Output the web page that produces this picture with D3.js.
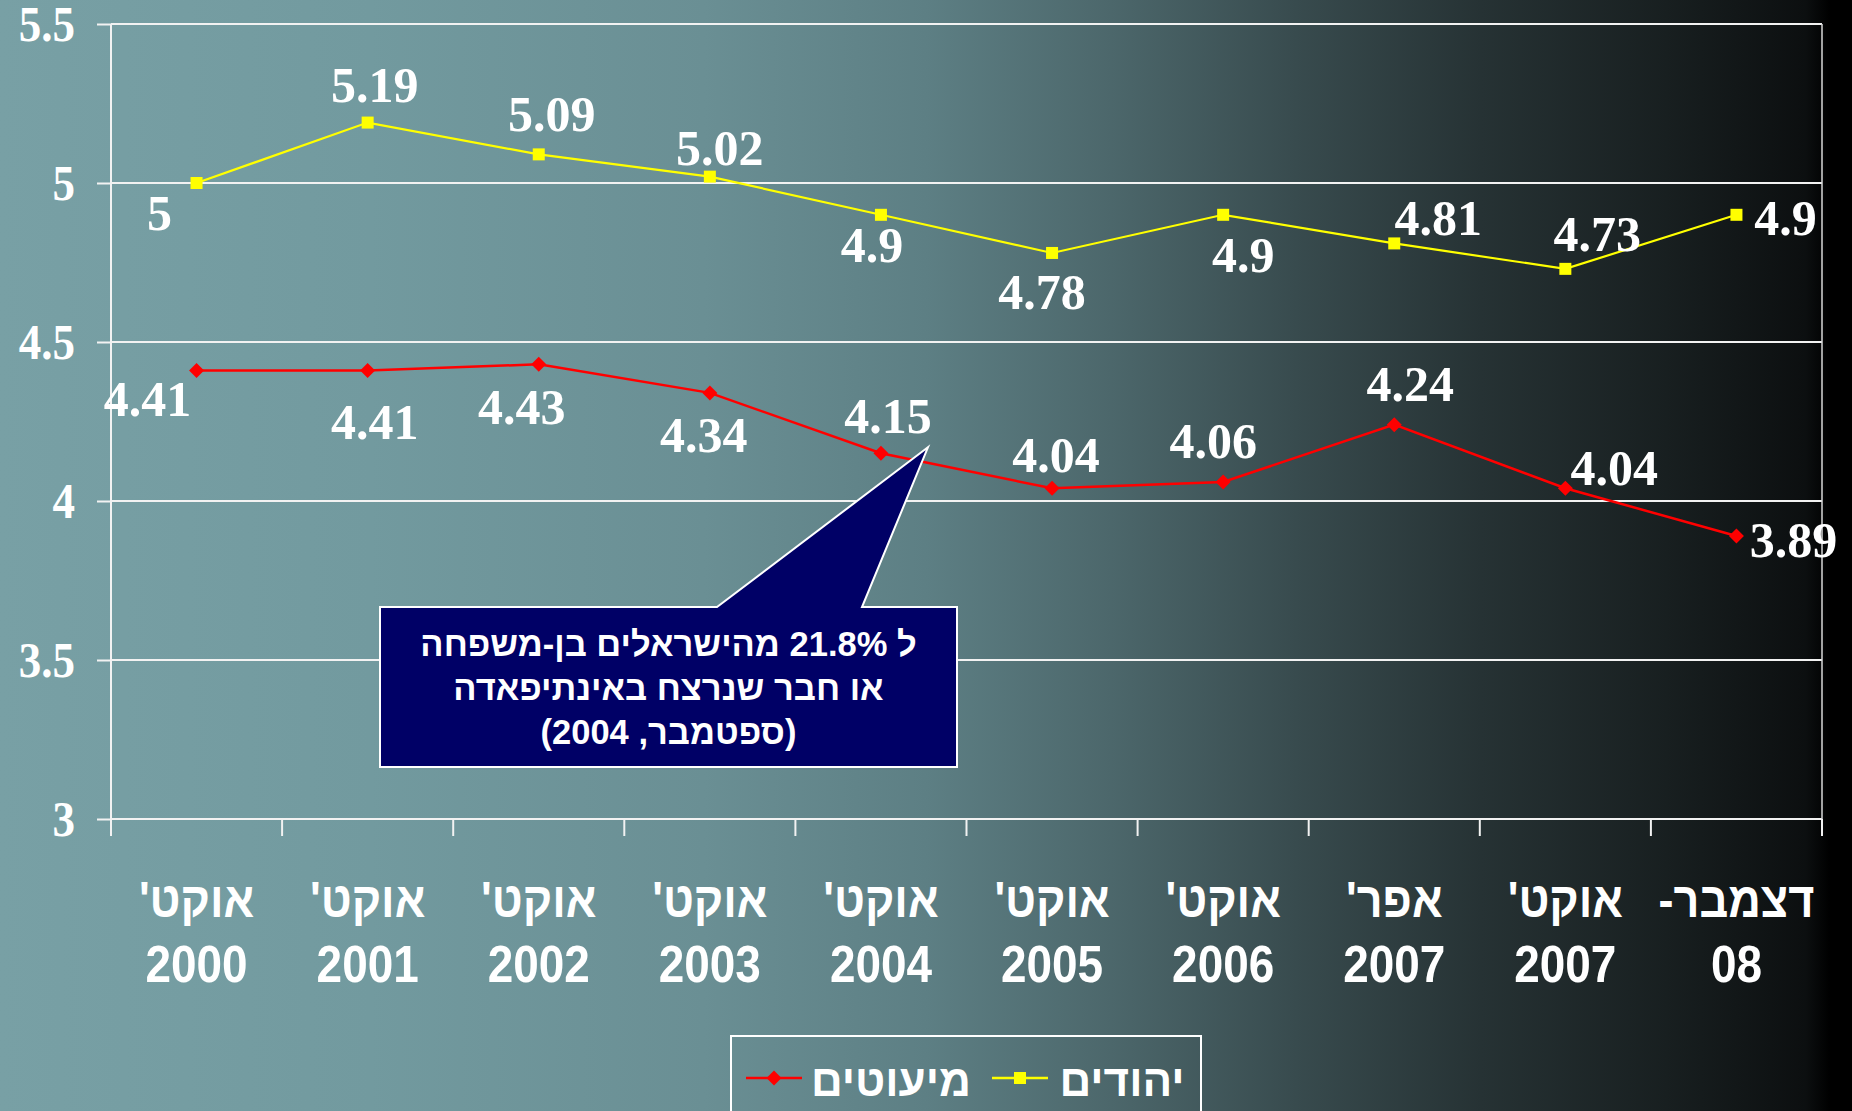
<!DOCTYPE html>
<html lang="he">
<head>
<meta charset="utf-8">
<script src="https://cdn.jsdelivr.net/npm/d3@7"></script>
<style>
  html, body { margin: 0; padding: 0; background: #000; }
  svg { display: block; }
</style>
</head>
<body>
<svg id="chart" width="1852" height="1111"></svg>
<script>
// ---------------- DATA ----------------
const catMonth = ["אוקט'", "אוקט'", "אוקט'", "אוקט'", "אוקט'", "אוקט'", "אוקט'", "אפר'", "אוקט'", "דצמבר-"];
const catYear  = ["2000", "2001", "2002", "2003", "2004", "2005", "2006", "2007", "2007", "08"];
const jews       = [5, 5.19, 5.09, 5.02, 4.9, 4.78, 4.9, 4.81, 4.73, 4.9];
const minorities = [4.41, 4.41, 4.43, 4.34, 4.15, 4.04, 4.06, 4.24, 4.04, 3.89];
const yTicks = [3, 3.5, 4, 4.5, 5, 5.5];
const seriesNames = ["יהודים", "מיעוטים"];
const calloutLines = ["ל 21.8% מהישראלים בן-משפחה", "או חבר שנרצח באינתיפאדה", "(ספטמבר, 2004)"];

// label placement (offset of label centre from its point, px)
const jewsLabelOffset = [[-37,30],[7,-38],[13,-40],[10,-29],[-9,30],[-10,39],[20,40],[44,-25],[32,-35],[49,3]];
const minLabelOffset  = [[-49,28],[7,51],[-17,43],[-6,42],[7,-37],[4,-33],[-10,-41],[16,-41],[49,-20],[57,4]];

// ---------------- LAYOUT ----------------
const W = 1852, H = 1111;
const plot = {left: 111, right: 1822, top: 24, bottom: 819};
const svg = d3.select("#chart");

// background gradient
const defs = svg.append("defs");
const grad = defs.append("linearGradient").attr("id", "bg").attr("x1", "0%").attr("x2", "100%").attr("y1", "0%").attr("y2", "0%");
[[0, "#78a0a5"], [0.2, "#729a9f"], [0.38, "#6a8f94"], [0.5, "#5d7f84"], [0.6, "#4c676b"], [0.7, "#384b4e"],
 [0.8, "#263234"], [0.9, "#181f20"], [0.975, "#0c0f10"], [0.988, "#000"], [1, "#000"]]
  .forEach(([o, c]) => grad.append("stop").attr("offset", o).attr("stop-color", c));
svg.append("rect").attr("width", W).attr("height", H).attr("fill", "url(#bg)");

const x = d3.scaleBand().domain(d3.range(catYear.length)).range([plot.left, plot.right]);
const y = d3.scaleLinear().domain([3, 5.5]).range([plot.bottom, plot.top]);
const cx = i => x(i) + x.bandwidth() / 2;

const gridColor = "#f2f2f2";

// gridlines
svg.append("g").selectAll("line").data(yTicks).join("line")
  .attr("x1", plot.left).attr("x2", plot.right)
  .attr("y1", d => y(d)).attr("y2", d => y(d))
  .attr("stroke", gridColor).attr("stroke-width", 2);

// plot border (right side)
svg.append("line").attr("x1", plot.right).attr("x2", plot.right)
  .attr("y1", plot.top).attr("y2", plot.bottom + 17)
  .attr("stroke", "#d8d8d8").attr("stroke-width", 1.5);

// y axis
const yAxis = svg.append("g").attr("transform", `translate(${plot.left},0)`)
  .call(d3.axisLeft(y).tickValues(yTicks).tickSize(14).tickPadding(22).tickFormat(d3.format("")));
yAxis.select(".domain").attr("stroke", gridColor).attr("stroke-width", 2)
  .attr("d", `M0,${plot.top}V${plot.bottom + 17}`);
yAxis.selectAll(".tick line").attr("stroke", gridColor).attr("stroke-width", 2);
yAxis.selectAll(".tick text")
  .attr("fill", "#fff").attr("dy", "0.33em").attr("x", -36 / 0.9)
  .attr("transform", "scale(0.9,1)")
  .style("font-family", "'Liberation Serif', 'Times New Roman', serif")
  .style("font-weight", "bold").style("font-size", "50px");

// x axis: tick marks at category boundaries
const bounds = d3.range(catYear.length + 1).map(i => i < catYear.length ? x(i) : x(catYear.length - 1) + x.bandwidth());
svg.append("g").selectAll("line").data(bounds).join("line")
  .attr("x1", d => d).attr("x2", d => d)
  .attr("y1", plot.bottom).attr("y2", plot.bottom + 17)
  .attr("stroke", gridColor).attr("stroke-width", 2);

// x axis labels
const xAxis = svg.append("g").attr("transform", `translate(0,${plot.bottom})`)
  .call(d3.axisBottom(x).tickSize(0).tickFormat(""));
xAxis.select(".domain").remove();
const xl = svg.append("g").selectAll("g").data(catYear).join("g")
  .attr("transform", (d, i) => `translate(${cx(i)},0) scale(0.9,1)`);
xl.append("text").attr("y", 917).attr("text-anchor", "middle").attr("direction", "rtl")
  .attr("fill", "#fff").style("font-family", "'Liberation Sans', Arial, sans-serif")
  .style("font-weight", "bold").style("font-size", "50px")
  .text((d, i) => catMonth[i]);
xl.append("text").attr("y", 982).attr("text-anchor", "middle")
  .attr("fill", "#fff").style("font-family", "'Liberation Sans', Arial, sans-serif")
  .style("font-weight", "bold").style("font-size", "51px")
  .text(d => d);

// lines
const line = d3.line().x((d, i) => cx(i)).y(d => y(d));
svg.append("path").datum(jews).attr("d", line).attr("fill", "none").attr("stroke", "#ffff00").attr("stroke-width", 2.2);
svg.append("path").datum(minorities).attr("d", line).attr("fill", "none").attr("stroke", "#ff0000").attr("stroke-width", 2.5);

// markers
svg.append("g").selectAll("rect").data(jews).join("rect")
  .attr("x", (d, i) => cx(i) - 6).attr("y", d => y(d) - 6)
  .attr("width", 12).attr("height", 12).attr("fill", "#ffff00");
svg.append("g").selectAll("path").data(minorities).join("path")
  .attr("d", (d, i) => `M${cx(i)},${y(d) - 7.5}L${cx(i) + 7.5},${y(d)}L${cx(i)},${y(d) + 7.5}L${cx(i) - 7.5},${y(d)}Z`)
  .attr("fill", "#ff0000");

// data labels
const labelStyle = sel => sel.attr("fill", "#fff").attr("text-anchor", "middle")
  .style("font-family", "'Liberation Serif', 'Times New Roman', serif")
  .style("font-weight", "bold").style("font-size", "50px");
svg.append("g").selectAll("text").data(jews).join("text")
  .attr("x", (d, i) => cx(i) + jewsLabelOffset[i][0])
  .attr("y", (d, i) => y(d) + jewsLabelOffset[i][1] + 17)
  .call(labelStyle).text(d => d3.format("")(d));
svg.append("g").selectAll("text").data(minorities).join("text")
  .attr("x", (d, i) => cx(i) + minLabelOffset[i][0])
  .attr("y", (d, i) => y(d) + minLabelOffset[i][1] + 17)
  .call(labelStyle).text(d => d3.format("")(d));

// callout pointing at the 2004 minorities point
const tipX = cx(4) + 47, tipY = y(minorities[4]) - 6;
const box = {l: 380, t: 607, r: 957, b: 767};
svg.append("path")
  .attr("d", `M${box.l},${box.t}L717,${box.t}L${tipX},${tipY}L862,${box.t}L${box.r},${box.t}L${box.r},${box.b}L${box.l},${box.b}Z`)
  .attr("fill", "#000066").attr("stroke", "#ffffff").attr("stroke-width", 2).attr("stroke-linejoin", "miter");
svg.append("g").selectAll("text").data(calloutLines).join("text")
  .attr("x", (box.l + box.r) / 2).attr("y", (d, i) => 656 + i * 44)
  .attr("text-anchor", "middle").attr("direction", "rtl")
  .attr("fill", "#fff").style("font-family", "'Liberation Sans', Arial, sans-serif")
  .style("font-weight", "bold").style("font-size", "34.5px")
  .text(d => d);

// legend
const lg = svg.append("g");
lg.append("rect").attr("x", 731).attr("y", 1036).attr("width", 470).attr("height", 100)
  .attr("fill", "none").attr("stroke", "#ffffff").attr("stroke-width", 2);
const legendItems = [
  {name: seriesNames[1], color: "#ff0000", x0: 746, x1: 802, tx: 891, shape: "diamond"},
  {name: seriesNames[0], color: "#ffff00", x0: 992, x1: 1048, tx: 1122, shape: "square"}
];
legendItems.forEach(it => {
  const ly = 1078, mx = (it.x0 + it.x1) / 2;
  lg.append("line").attr("x1", it.x0).attr("x2", it.x1).attr("y1", ly).attr("y2", ly)
    .attr("stroke", it.color).attr("stroke-width", 2.5);
  if (it.shape === "square") {
    lg.append("rect").attr("x", mx - 6).attr("y", ly - 6).attr("width", 12).attr("height", 12).attr("fill", it.color);
  } else {
    lg.append("path").attr("d", `M${mx},${ly - 7.5}L${mx + 7.5},${ly}L${mx},${ly + 7.5}L${mx - 7.5},${ly}Z`).attr("fill", it.color);
  }
  lg.append("text").attr("x", it.tx).attr("y", 1096).attr("text-anchor", "middle").attr("direction", "rtl")
    .attr("fill", "#fff").style("font-family", "'Liberation Sans', Arial, sans-serif")
    .style("font-weight", "bold").style("font-size", "44px")
    .text(it.name);
});
</script>
</body>
</html>
